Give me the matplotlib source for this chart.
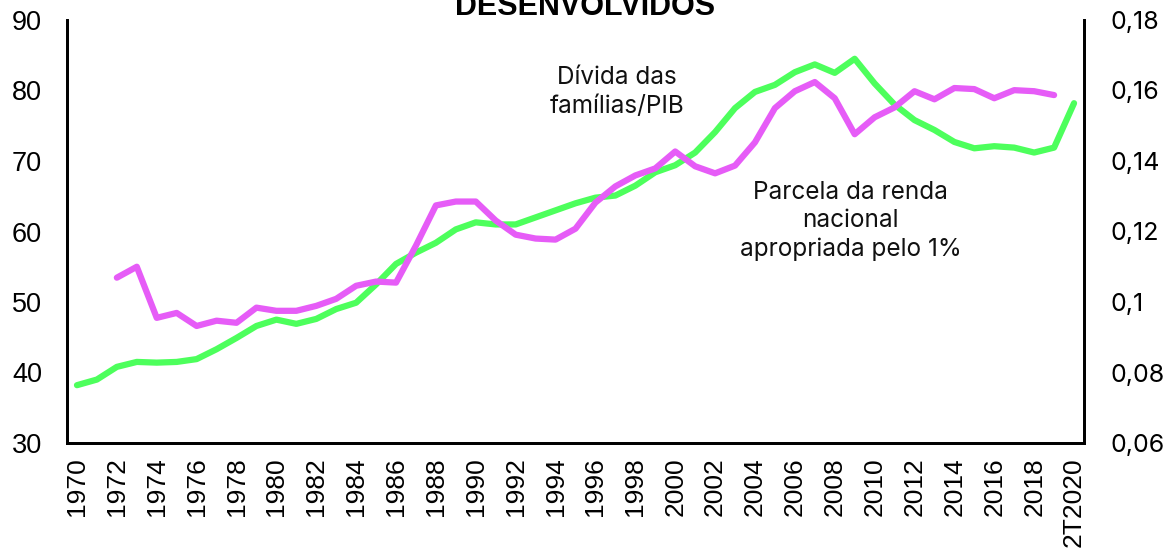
import matplotlib
matplotlib.use('Agg')
import matplotlib.pyplot as plt

# data
anos = list(range(1970, 2021))
divida_pib = [38.2, 39.0, 40.8, 41.5, 41.4, 41.5, 41.9, 43.3, 44.9, 46.6,
              47.5, 46.9, 47.6, 49.0, 49.9, 52.5, 55.4, 57.0, 58.4, 60.3,
              61.3, 61.0, 61.0, 62.0, 63.0, 64.0, 64.8, 65.1, 66.5, 68.4,
              69.4, 71.2, 74.1, 77.5, 79.8, 80.8, 82.6, 83.7, 82.5, 84.5,
              81.0, 78.0, 75.8, 74.4, 72.7, 71.8, 72.1, 71.9, 71.2, 71.9,
              78.2]

anos_renda = list(range(1972, 2020))
renda_top1 = [0.1069, 0.1100, 0.0955, 0.0969, 0.0932, 0.0947, 0.0941, 0.0984,
              0.0975, 0.0975, 0.0989, 0.1009, 0.1046, 0.1058, 0.1055, 0.1160,
              0.1274, 0.1285, 0.1285, 0.1231, 0.1191, 0.1180, 0.1177, 0.1208,
              0.1282, 0.1328, 0.1359, 0.1379, 0.1427, 0.1385, 0.1365, 0.1387,
              0.1453, 0.1550, 0.1598, 0.1624, 0.1578, 0.1476, 0.1524, 0.1552,
              0.1598, 0.1575, 0.1607, 0.1604, 0.1578, 0.1601, 0.1598, 0.1587]

xticks = list(range(1970, 2021, 2))
xlabels = [str(a) for a in range(1970, 2020, 2)] + ['2T2020']
yticks_esq = [30, 40, 50, 60, 70, 80, 90]
yticks_dir = [0.06, 0.08, 0.10, 0.12, 0.14, 0.16, 0.18]
ylabels_dir = ['0,06', '0,08', '0,1', '0,12', '0,14', '0,16', '0,18']

verde = '#4dff5c'
magenta = '#e65cf7'

fig = plt.figure(figsize=(11.71, 5.56), dpi=100)
ax = fig.add_axes([67 / 1171, 1 - 443 / 556, (1084 - 67) / 1171, (443 - 20) / 556])
ax2 = ax.twinx()

ax.plot(anos, divida_pib, color=verde, lw=4.5, solid_capstyle='round', zorder=2)
ax2.plot(anos_renda, renda_top1, color=magenta, lw=4.5, solid_capstyle='round', zorder=3)

ax.set_xlim(1969.5, 2020.5)
ax.set_ylim(30, 90)
ax2.set_ylim(0.06, 0.18)

ax.set_xticks(xticks)
ax.set_xticklabels(xlabels, rotation=90, fontsize=19, family='Liberation Sans')
ax.set_yticks(yticks_esq)
ax.set_yticklabels([str(v) for v in yticks_esq], fontsize=19.5, family='Liberation Sans')
ax2.set_yticks(yticks_dir)
ax2.set_yticklabels(ylabels_dir, fontsize=18, family='Inter')

ax.tick_params(axis='x', length=0, pad=10)
ax.tick_params(axis='y', length=0, pad=18)
ax2.tick_params(axis='y', length=0, pad=19)

for a in (ax, ax2):
    a.spines['top'].set_visible(False)
    for s in ('left', 'right', 'bottom'):
        a.spines[s].set_linewidth(2)
        a.spines[s].set_color('black')

ax.text(1997.08, 79.8, 'Dívida das\nfamílias/PIB', ha='center', va='center',
        fontsize=17.5, family='Inter', color='#111111', linespacing=1.3)
ax.text(2008.8, 61.5, 'Parcela da renda\nnacional\napropriada pelo 1%', ha='center',
        va='center', fontsize=17.5, family='Inter', color='#111111', linespacing=1.3)

fig.text(0.5, 1 - 15 / 556, 'DESENVOLVIDOS', ha='center', va='baseline',
         fontsize=22, fontweight='bold', family='Liberation Sans')

fig.savefig('out.png', dpi=100)
